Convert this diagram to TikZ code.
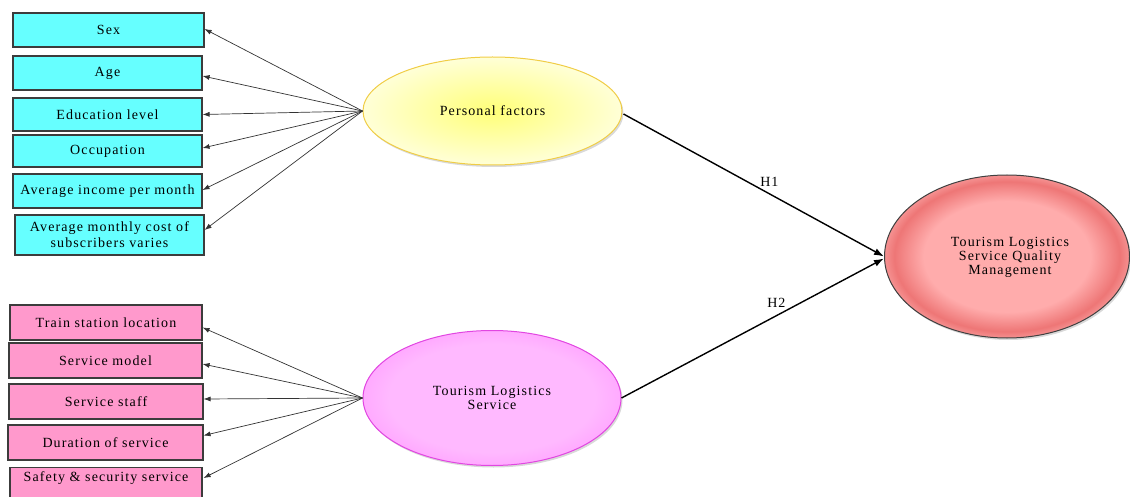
\documentclass[tikz,border=0pt]{standalone}
\usepackage{fontspec}
\setmainfont{Liberation Serif}[LetterSpace=8.0]
\usetikzlibrary{shapes.geometric,arrows.meta,shadows}
\definecolor{cyanbox}{RGB}{102,255,255}
\definecolor{pinkbox}{RGB}{255,153,204}
\definecolor{boxline}{RGB}{60,60,60}
\definecolor{yIn}{RGB}{255,255,120}
\definecolor{yEdge}{RGB}{255,255,215}
\definecolor{yLine}{RGB}{240,205,70}
\definecolor{pIn}{RGB}{255,185,255}
\definecolor{pEdge}{RGB}{255,170,255}
\definecolor{pLine}{RGB}{225,70,225}
\definecolor{rIn}{RGB}{255,172,172}
\definecolor{rRing}{RGB}{238,118,118}
\definecolor{rEdge}{RGB}{245,145,145}
\pgfdeclareradialshading{yellowball}{\pgfpoint{0bp}{0bp}}{color(0bp)=(yIn); color(25bp)=(yEdge); color(50bp)=(yEdge)}
\pgfdeclareradialshading{pinkball}{\pgfpoint{0bp}{0bp}}{color(0bp)=(pIn); color(20bp)=(pIn); color(25bp)=(pEdge); color(50bp)=(pEdge)}
\pgfdeclareradialshading{redball}{\pgfpoint{0bp}{0bp}}{color(0bp)=(rIn); color(17bp)=(rIn); color(23bp)=(rRing); color(25bp)=(rEdge); color(50bp)=(rEdge)}
\begin{document}
\begin{tikzpicture}[x=1pt,y=-1pt,
  every node/.style={font=\fontsize{14}{16}\selectfont, align=center, text=black},
  factorbox/.style={draw=boxline, line width=1.1pt, inner sep=0pt},
  cbox/.style={factorbox, fill=cyanbox},
  pbox/.style={factorbox, fill=pinkbox},
  latent/.style={ellipse, inner sep=0pt, font=\fontsize{14}{14}\selectfont, drop shadow={shadow xshift=1.5pt, shadow yshift=-2pt, opacity=0.3}},
  ind/.style={draw=black!80, line width=0.7pt, -{Latex[length=7pt,width=5pt]}},
  hyp/.style={draw=black, line width=1.4pt, -{Latex[length=10pt,width=7pt]}}
]
\useasboundingbox (0,0) rectangle (1130,497);

% cyan indicator boxes
\node[cbox, minimum width=191pt, minimum height=34pt] (sex) at (108.5,30) {Sex};
\node[cbox, minimum width=189pt, minimum height=34pt] (age) at (107.5,73) {Age};
\node[cbox, minimum width=189pt, minimum height=33pt] (edu) at (107.5,114.5) {Education level};
\node[cbox, minimum width=189pt, minimum height=32pt] (occ) at (107.5,151) {Occupation};
\node[cbox, minimum width=189pt, minimum height=34pt] (inc) at (107.5,191) {Average income per month};
\node[cbox, minimum width=189pt, minimum height=40pt] (cost) at (109.5,235) {Average monthly cost of\\subscribers varies};

% pink indicator boxes
\node[pbox, minimum width=192pt, minimum height=35pt] (train) at (106,322.5) {Train station location};
\node[pbox, minimum width=193pt, minimum height=35pt] (model) at (105.5,360.5) {Service model};
\node[pbox, minimum width=194pt, minimum height=35pt] (staff) at (106,401.5) {Service staff};
\node[pbox, minimum width=195pt, minimum height=35pt] (dur) at (105.5,442.5) {Duration of service};
\node[pbox, minimum width=192pt, minimum height=32pt, anchor=north] (safe) at (106,466.5) {};
\node (safetxt) at (106,478) {Safety \& security service};

% latent variables
\node[latent, shading=yellowball, draw=yLine, line width=1pt, minimum width=259pt, minimum height=108pt] (pf) at (492.5,111) {Personal factors};
\node[latent, shading=pinkball, draw=pLine, line width=1pt, minimum width=258pt, minimum height=135pt] (tls) at (492,398) {Tourism Logistics\\Service};
\node[latent, shading=redball, draw=black!75, line width=1pt, minimum width=245pt, minimum height=163pt] (tlsqm) at (1007,256.5) {};
\node[font=\fontsize{14}{14}\selectfont] (tlsqmtxt) at (1010,257) {Tourism Logistics\\Service Quality\\Management};

% indicator arrows
\draw[ind] (pf.west) -- ([yshift=1pt]sex.east);
\draw[ind] (pf.west) -- ([yshift=-3pt]age.east);
\draw[ind] (pf.west) -- (edu.east);
\draw[ind] (pf.west) -- ([yshift=3pt]occ.east);
\draw[ind] (pf.west) -- ([yshift=1pt]inc.east);
\draw[ind] (pf.west) -- ([yshift=5pt]cost.east);

\draw[ind] (tls.west) -- ([yshift=-5pt]train.east);
\draw[ind] (tls.west) -- ([yshift=-3.5pt]model.east);
\draw[ind] (tls.west) -- ([yshift=2.5pt]staff.east);
\draw[ind] (tls.west) -- ([yshift=7pt]dur.east);
\draw[ind] (tls.west) -- ([xshift=1pt]safe.east |- safetxt);

% hypotheses
\draw[hyp] ([xshift=1pt,yshift=-3pt]pf.east) -- (tlsqm.west) node[pos=0.56, above=3pt] {H1};
\draw[hyp] (tls.east) -- ([yshift=-2pt]tlsqm.west) node[pos=0.59, above=4pt] {H2};
\end{tikzpicture}
\end{document}
